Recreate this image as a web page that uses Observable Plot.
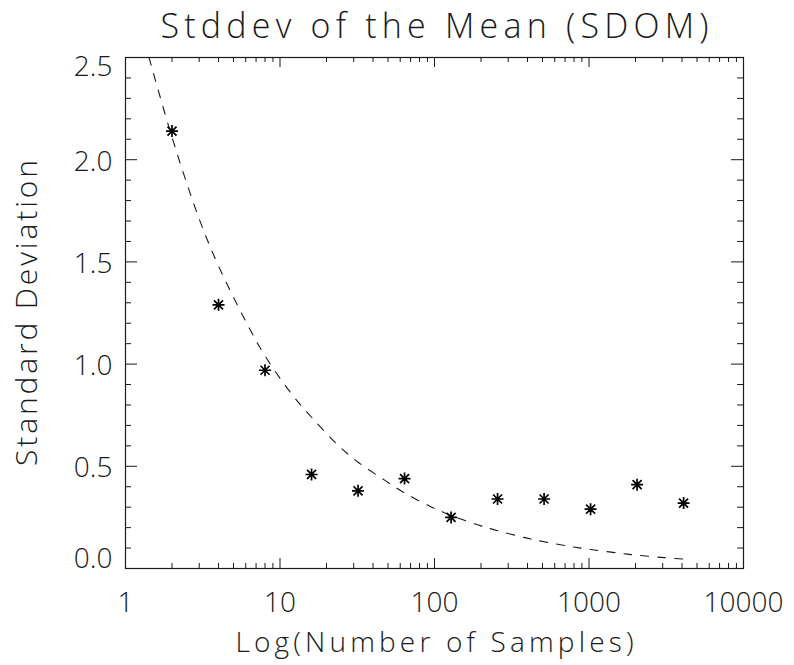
<!DOCTYPE html>
<html><head><meta charset="utf-8">
<script src="https://cdn.jsdelivr.net/npm/d3@7"></script>
<script src="https://cdn.jsdelivr.net/npm/@observablehq/plot@0.6"></script>
<style>html,body{margin:0;padding:0;background:#fff} svg{display:block}</style>
</head><body><div id="chart"></div>
<script>
const title = "Stddev of the Mean (SDOM)";
const xLabel = "Log(Number of Samples)";
const yLabel = "Standard Deviation";

// measured points
const samples = [2, 4, 8, 16, 32, 64, 128, 256, 512, 1024, 2048, 4096];
const sdom = [2.14, 1.29, 0.97, 0.46, 0.38, 0.44, 0.25, 0.34, 0.34, 0.29, 0.41, 0.32];

// dashed curve
const curveN = [1.42, 2, 3, 4, 6, 8, 12, 16, 24, 32, 48, 64, 96, 128, 192, 256, 384, 512, 768, 1024, 1536, 2048, 3072, 4096];
const curveY = [2.5, 2.11, 1.71, 1.48, 1.21, 1.04, 0.85, 0.74, 0.60, 0.52, 0.43, 0.37, 0.30, 0.26, 0.213, 0.185, 0.151, 0.131, 0.107, 0.093, 0.076, 0.065, 0.053, 0.046];

// axes
const xMajorTicks = [1, 10, 100, 1000, 10000];
const xTickLabels = ["1", "10", "100", "1000", "10000"];
const xMinorTicks = [1, 10, 100, 1000].flatMap(d => [2, 3, 4, 5, 6, 7, 8, 9].map(m => m * d));
const yMajorTicks = [0, 0.5, 1.0, 1.5, 2.0, 2.5];
const yTickLabels = ["0.0", "0.5", "1.0", "1.5", "2.0", "2.5"];
const yMinorTicks = [0.1,0.2,0.3,0.4,0.6,0.7,0.8,0.9,1.1,1.2,1.3,1.4,1.6,1.7,1.8,1.9,2.1,2.2,2.3,2.4];

const points = samples.map((n, i) => ({n, v: sdom[i]}));
const curve = curveN.map((n, i) => ({n, v: curveY[i]}));
const xLab = xMajorTicks.map((t, i) => ({t, label: xTickLabels[i]}));
const yLab = yMajorTicks.map((t, i) => ({t, label: yTickLabels[i]}));

const W = 794, H = 665;
const mL = 125, mR = 51, mT = 57, mB = 97;
const PW = W - mL - mR, PH = H - mT - mB;
const FONT = "'Open Sans', 'DejaVu Sans', sans-serif";
const INK = "#1a1a1a";

const asterisk = {
  draw(ctx, size) {
    const r = Math.sqrt(size / Math.PI);
    const d = r * 0.75;
    ctx.moveTo(0, -r); ctx.lineTo(0, r);
    ctx.moveTo(-r, 0); ctx.lineTo(r, 0);
    ctx.moveTo(-d, -d); ctx.lineTo(d, d);
    ctx.moveTo(-d, d); ctx.lineTo(d, -d);
  }
};

const chart = Plot.plot({
  width: W, height: H,
  marginLeft: mL, marginRight: mR, marginTop: mT, marginBottom: mB,
  style: {fontFamily: FONT, fontWeight: 300, background: "#fff", color: INK},
  x: {type: "log", domain: [1, 10000], axis: null},
  y: {domain: [0, 2.5], axis: null},
  marks: [
    // ticks (inward, both sides)
    Plot.tickX(xMajorTicks, {x: d => d, insetTop: PH - 10, stroke: INK}),
    Plot.tickX(xMajorTicks, {x: d => d, insetBottom: PH - 10, stroke: INK}),
    Plot.tickX(xMinorTicks, {x: d => d, insetTop: PH - 5, stroke: INK}),
    Plot.tickX(xMinorTicks, {x: d => d, insetBottom: PH - 5, stroke: INK}),
    Plot.tickY(yMajorTicks, {y: d => d, insetRight: PW - 12, stroke: INK}),
    Plot.tickY(yMajorTicks, {y: d => d, insetLeft: PW - 12, stroke: INK}),
    Plot.tickY(yMinorTicks, {y: d => d, insetRight: PW - 6, stroke: INK}),
    Plot.tickY(yMinorTicks, {y: d => d, insetLeft: PW - 6, stroke: INK}),
    Plot.frame({stroke: INK, strokeWidth: 1.2}),
    // tick labels
    Plot.text(xLab, {x: "t", text: "label", frameAnchor: "bottom", dy: 35, textAnchor: "middle", lineAnchor: "middle", fontSize: 28, fontWeight: 300, fill: INK}),
    Plot.text(yLab.filter(d => d.t > 0 && d.t < 2.5), {y: "t", text: "label", frameAnchor: "left", dx: -13, dy: 2, textAnchor: "end", lineAnchor: "middle", fontSize: 28, fontWeight: 300, fill: INK}),
    Plot.text(yLab.filter(d => d.t === 2.5), {y: "t", text: "label", frameAnchor: "left", dx: -13, dy: 10, textAnchor: "end", lineAnchor: "middle", fontSize: 28, fontWeight: 300, fill: INK}),
    Plot.text(yLab.filter(d => d.t === 0), {y: "t", text: "label", frameAnchor: "left", dx: -13, dy: -9, textAnchor: "end", lineAnchor: "middle", fontSize: 28, fontWeight: 300, fill: INK}),
    // titles
    Plot.text([title], {text: d => d, frameAnchor: "top", dy: -30, textAnchor: "middle", lineAnchor: "middle", fontSize: 34, fontWeight: 300, fill: INK}),
    Plot.text([xLabel], {text: d => d, frameAnchor: "bottom", dy: 75, textAnchor: "middle", lineAnchor: "middle", fontSize: 28, fontWeight: 300, fill: INK}),
    Plot.text([yLabel], {text: d => d, frameAnchor: "left", dx: -98, dy: 0, rotate: -90, textAnchor: "middle", lineAnchor: "middle", fontSize: 30, fontWeight: 300, fill: INK}),
    // data
    Plot.line(curve, {x: "n", y: "v", stroke: INK, strokeWidth: 1.1, strokeDasharray: "8,9", curve: "catmull-rom"}),
    Plot.dot(points, {x: "n", y: "v", symbol: asterisk, r: 6, stroke: "#000", strokeWidth: 1.7, fill: "none"})
  ]
});

const fit = {[title]: 548, [xLabel]: 398, [yLabel]: 306};
d3.select(chart).selectAll("text").each(function() {
  const t = this.textContent;
  if (fit[t]) { this.setAttribute("textLength", fit[t]); this.setAttribute("lengthAdjust", "spacing"); }
});
document.getElementById("chart").appendChild(chart);
</script>
</body></html>
